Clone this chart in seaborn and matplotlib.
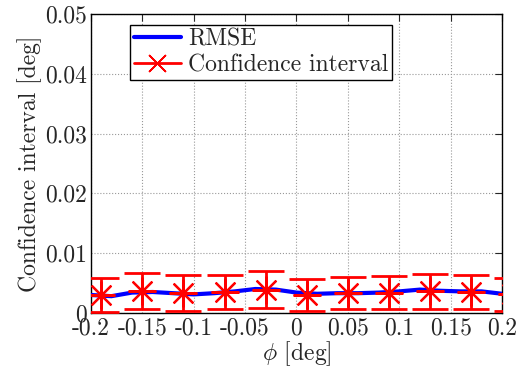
import numpy as np
import pandas as pd
import matplotlib
matplotlib.use("Agg")
import matplotlib.pyplot as plt
import seaborn as sns

# RMSE curve
phi_rmse = [-0.20, -0.18, -0.16, -0.14, -0.12, -0.10, -0.08, -0.06, -0.04, -0.02, 0.00,
            0.02, 0.04, 0.06, 0.08, 0.10, 0.12, 0.14, 0.16, 0.18, 0.20]
rmse = [0.0030, 0.0028, 0.0034, 0.0035, 0.0033, 0.0031, 0.0033, 0.0036, 0.0040, 0.0039, 0.0034,
        0.0032, 0.0033, 0.0033, 0.0034, 0.0036, 0.0039, 0.0037, 0.0036, 0.0036, 0.0032]

# confidence interval points
phi_ci = [-0.19, -0.15, -0.11, -0.07, -0.03, 0.01, 0.05, 0.09, 0.13, 0.17, 0.21]
ci_mid = [0.0030, 0.0036, 0.0033, 0.0035, 0.0039, 0.0030, 0.0033, 0.0034, 0.0036, 0.0035, 0.0031]
ci_half = [0.0028, 0.0030, 0.0030, 0.0029, 0.0031, 0.0027, 0.0027, 0.0027, 0.0029, 0.0028, 0.0027]

x_ticks = [-0.2, -0.15, -0.1, -0.05, 0, 0.05, 0.1, 0.15, 0.2]
x_labels = ["-0.2", "-0.15", "-0.1", "-0.05", "0", "0.05", "0.1", "0.15", "0.2"]
y_ticks = [0, 0.01, 0.02, 0.03, 0.04, 0.05]
y_labels = ["0", "0.01", "0.02", "0.03", "0.04", "0.05"]

sns.set_style("white")
plt.rcParams["font.family"] = ["cmr10", "DejaVu Serif"]
plt.rcParams["mathtext.fontset"] = "cm"
plt.rcParams["axes.unicode_minus"] = False
plt.rcParams["axes.formatter.use_mathtext"] = True

fs = 17

fig = plt.figure(figsize=(5.22, 3.69), dpi=100)
ax = fig.add_axes([0.174, 0.152, 0.788, 0.810])

rmse_df = pd.DataFrame({"phi": phi_rmse, "rmse": rmse})
sns.lineplot(data=rmse_df, x="phi", y="rmse", ax=ax, color="#0000ff", linewidth=3,
             label="RMSE", zorder=3)

ax.errorbar(phi_ci, ci_mid, yerr=ci_half, fmt="none", ecolor="red", elinewidth=2,
            capsize=13, capthick=2, zorder=4)
ax.plot(phi_ci, ci_mid, linestyle="none", marker=(8, 2, 0), markersize=20,
        markeredgewidth=1.6, color="red", zorder=4)
ax.plot([], [], color="red", linewidth=2, marker=(4, 2, 45), markersize=17,
        markeredgewidth=1.2, label="Confidence interval")

ax.set_xlim(-0.2, 0.2)
ax.set_ylim(0, 0.05)
ax.set_xticks(x_ticks)
ax.set_xticklabels(x_labels, fontsize=fs)
ax.set_yticks(y_ticks)
ax.set_yticklabels(y_labels, fontsize=fs)
ax.tick_params(direction="in", length=5, width=0.8, top=True, right=True, pad=3)
ax.grid(True, linestyle=":", color="#999999", linewidth=0.8)
for s in ax.spines.values():
    s.set_color("black")
    s.set_linewidth(1.0)

ax.set_xlabel(r"$\phi$ [deg]", fontsize=fs, labelpad=0)
ax.set_ylabel("Confidence interval [deg]", fontsize=fs, labelpad=2)

leg = ax.legend(loc="upper left", bbox_to_anchor=(0.249, 0.932),
                bbox_transform=fig.transFigure, fontsize=fs, frameon=True,
                fancybox=False, edgecolor="black", framealpha=1,
                handlelength=2.0, handletextpad=0.3, borderpad=0.15,
                labelspacing=0.15, borderaxespad=0)
leg.get_frame().set_linewidth(1.0)

fig.savefig("out.png", dpi=100)
